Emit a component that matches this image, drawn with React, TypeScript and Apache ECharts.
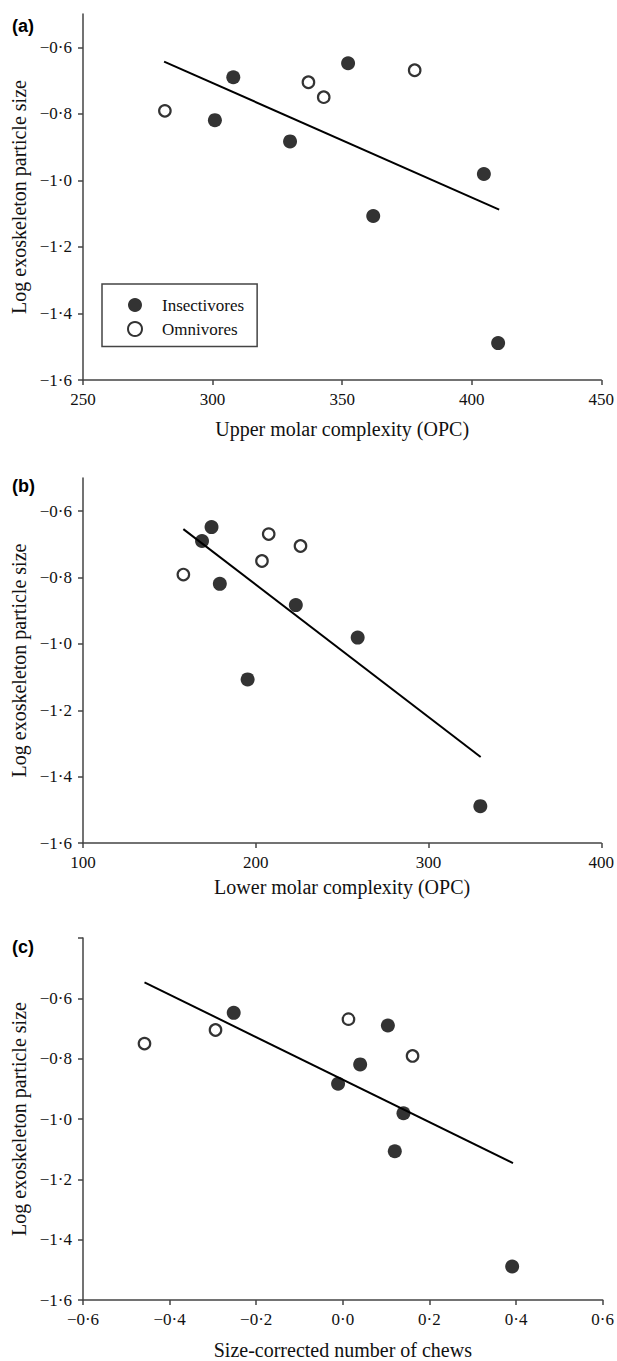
import React, { useEffect, useRef } from "react";
import * as echarts from "echarts";

// ---- data ----
const seriesNames = ["Insectivores", "Omnivores"];
const yTitle = "Log exoskeleton particle size";
const xTitles = ["Upper molar complexity (OPC)", "Lower molar complexity (OPC)", "Size-corrected number of chews"];
const panelLetters = ["(a)", "(b)", "(c)"];

// log exoskeleton particle size (same species in all panels)
const insectY = [-0.69, -0.819, -0.883, -0.648, -1.107, -0.981, -1.489];
const omniY = [-0.791, -0.705, -0.75, -0.669];

// panel (a): upper molar OPC
const insectUpperOPC = [308.0, 300.9, 329.9, 352.3, 362.0, 404.7, 410.2];
const omniUpperOPC = [281.6, 337.0, 342.9, 378.0];
const fitA = [[281.3, -0.643], [410.6, -1.088]];

// panel (b): lower molar OPC
const insectLowerOPC = [168.9, 179.2, 223.2, 174.4, 195.3, 259.0, 330.0];
const omniLowerOPC = [158.1, 225.9, 203.6, 207.5];
const fitB = [[158.1, -0.654], [330.2, -1.341]];

// panel (c): size-corrected number of chews
const insectChews = [0.104, 0.04, -0.011, -0.252, 0.12, 0.14, 0.391];
const omniChews = [0.161, -0.294, -0.458, 0.013];
const fitC = [[-0.458, -0.547], [0.393, -1.146]];

// axes
const xRanges = [
  { min: 250, max: 450, interval: 50 },
  { min: 100, max: 400, interval: 100 },
  { min: -0.6, max: 0.6, interval: 0.2 },
];
const yMax = [-0.5, -0.5, -0.4];
const yLabelValues = [-1.6, -1.4, -1.2, -1.0, -0.8, -0.6];
const yTickValuesC = [-1.6, -1.4, -1.2, -1.0, -0.8, -0.6, -0.4];

const SERIF = "'Liberation Serif', 'Times New Roman', serif";
const INK = "#000";
const AXIS = "#444";
const TEXT = "#111";

const fmtDot = (v: number) => {
  const s = Math.abs(v).toFixed(1).replace(".", "\u00b7");
  return (v < -1e-9 ? "\u2212" : "") + s;
};
const fmtInt = (v: number) => String(Math.round(v));

const zip = (xs: number[], ys: number[]) => xs.map((x, i) => [x, ys[i]]);

export default function App() {
  const ref = useRef<HTMLDivElement>(null);

  useEffect(() => {
    document.body.style.margin = "0";
    if (!ref.current) return;
    const chart = echarts.init(ref.current, undefined, { renderer: "svg" });

    const grids = [
      { left: 83, top: 14, width: 521, height: 366 },
      { left: 83, top: 478, width: 521, height: 365 },
      { left: 83, top: 938, width: 521, height: 365 },
    ];
    const xNameGaps = [39, 34, 40];
    const panels = [
      { insX: insectUpperOPC, omX: omniUpperOPC, fit: fitA, fmt: fmtInt },
      { insX: insectLowerOPC, omX: omniLowerOPC, fit: fitB, fmt: fmtInt },
      { insX: insectChews, omX: omniChews, fit: fitC, fmt: fmtDot },
    ];

    const xAxis = panels.map((p, i) => ({
      type: "value",
      gridIndex: i,
      min: xRanges[i].min,
      max: xRanges[i].max,
      interval: xRanges[i].interval,
      name: xTitles[i],
      nameLocation: "middle",
      nameGap: xNameGaps[i],
      nameTextStyle: { fontFamily: SERIF, fontSize: 20, color: TEXT },
      axisLine: { show: true, onZero: false, lineStyle: { color: AXIS, width: 1.5 } },
      axisTick: { show: true, inside: false, length: 5, lineStyle: { color: AXIS, width: 1.5 } },
      axisLabel: { fontFamily: SERIF, fontSize: 17, color: TEXT, margin: 11, formatter: p.fmt },
      splitLine: { show: false },
    }));

    const yAxis = panels.map((_, i) => ({
      type: "value",
      gridIndex: i,
      min: -1.6,
      max: yMax[i],
      interval: 0.2,
      name: yTitle,
      nameLocation: "middle",
      nameGap: 53,
      nameRotate: 90,
      nameTextStyle: { fontFamily: SERIF, fontSize: 20, color: TEXT },
      axisLine: { show: true, onZero: false, lineStyle: { color: AXIS, width: 1.5 } },
      axisTick: {
        show: true,
        inside: false,
        length: 5,
        lineStyle: { color: AXIS, width: 1.5 },
        customValues: i === 2 ? yTickValuesC : yLabelValues,
      },
      axisLabel: {
        fontFamily: SERIF,
        fontSize: 17,
        color: TEXT,
        margin: 11,
        formatter: fmtDot,
        customValues: yLabelValues,
      },
      splitLine: { show: false },
    }));

    const series: any[] = [];
    panels.forEach((p, i) => {
      series.push({
        type: "line",
        name: "fit",
        xAxisIndex: i,
        yAxisIndex: i,
        data: p.fit,
        symbol: "none",
        lineStyle: { color: INK, width: 2 },
        silent: true,
        z: 1,
      });
      series.push({
        type: "scatter",
        name: seriesNames[0],
        xAxisIndex: i,
        yAxisIndex: i,
        data: zip(p.insX, insectY),
        symbol: "circle",
        symbolSize: 14,
        itemStyle: { color: INK },
        z: 3,
      });
      series.push({
        type: "scatter",
        name: seriesNames[1],
        xAxisIndex: i,
        yAxisIndex: i,
        data: zip(p.omX, omniY),
        symbol: "circle",
        symbolSize: 11.5,
        itemStyle: { color: "#fff", borderColor: INK, borderWidth: 2.2 },
        z: 3,
      });
    });

    chart.setOption({
      animation: false,
      backgroundColor: "#fff",
      grid: grids,
      xAxis,
      yAxis,
      series,
      legend: {
        left: 102,
        top: 284,
        orient: "vertical",
        padding: [12.5, 13, 9, 25],
        itemGap: 7,
        itemWidth: 14,
        itemHeight: 14,
        borderColor: AXIS,
        borderWidth: 1.5,
        selectedMode: false,
        textStyle: { fontFamily: SERIF, fontSize: 17, color: TEXT, lineHeight: 17, padding: [0, 0, 0, 15] },
        data: [
          { name: seriesNames[0], icon: "circle", itemStyle: { color: INK } },
          { name: seriesNames[1], icon: "circle", itemStyle: { color: "#fff", borderColor: INK, borderWidth: 2 } },
        ],
      },
      graphic: panelLetters.map((t, i) => ({
        type: "text",
        x: 12,
        y: [26, 486, 947][i],
        style: {
          text: t,
          font: "bold 18px 'Liberation Sans', Arial, sans-serif",
          fill: INK,
          verticalAlign: "middle",
          align: "left",
        },
      })),
    });

    return () => chart.dispose();
  }, []);

  return <div ref={ref} style={{ width: 617, height: 1361 }} />;
}
